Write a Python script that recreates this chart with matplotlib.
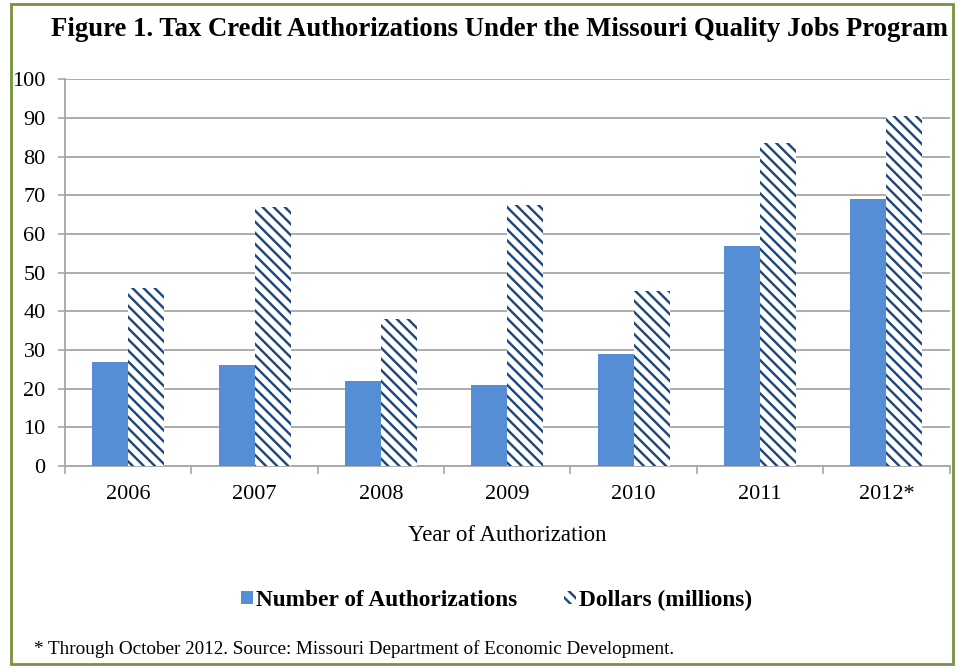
import matplotlib.pyplot as plt
import matplotlib.patches as mpatches
import numpy as np

years = ['2006', '2007', '2008', '2009', '2010', '2011', '2012*']
num_auth = [27, 26, 22, 21, 29, 57, 69]
dollars = [46, 67, 38, 67.5, 45.3, 83.5, 90.5]

plt.rcParams['font.family'] = ['Liberation Serif', 'DejaVu Serif']
plt.rcParams['hatch.linewidth'] = 1.75

fig = plt.figure(figsize=(9.66, 6.66), dpi=100)
ax = fig.add_axes([0.0673, 0.3003, 0.9157, 0.5807])

x = np.arange(len(years))
w = 0.285
ax.bar(x - w/2, num_auth, w, color='#558ed5', label='Number of Authorizations', zorder=3)
# '\\' x3 -> 18 lines per inch, close to the fine stripes of the original
ax.bar(x + w/2, dollars, w, color='white', edgecolor='#1f497d', linewidth=0,
       hatch='\\\\\\', label='Dollars (millions)', zorder=3)

ax.set_xlim(-0.5, len(years) - 0.5)
ax.set_ylim(0, 100)
ax.set_yticks(range(0, 101, 10))
ax.yaxis.grid(True, color='#a6a6a6', linewidth=1.3, zorder=0)
ax.set_xticks(x)
ax.set_xticklabels(years, fontsize=16)
ax.set_xticks(np.arange(-0.5, len(years)), minor=True)
ax.tick_params(axis='x', which='major', length=0, pad=14)
ax.tick_params(axis='x', which='minor', length=6, color='#a6a6a6', width=1.2)
ax.tick_params(axis='y', length=5, color='#a6a6a6', width=1.2, labelsize=16, pad=9)
for s in ['top', 'right']:
    ax.spines[s].set_visible(False)
for s in ['left', 'bottom']:
    ax.spines[s].set_color('#a6a6a6')
    ax.spines[s].set_linewidth(1.3)

ax.set_xlabel('Year of Authorization', fontsize=16.5, labelpad=15)

fig.text(0.517, 1 - 30 / 666, 'Figure 1. Tax Credit Authorizations Under the Missouri Quality Jobs Program',
         ha='center', va='center', fontsize=19.3, fontweight='bold')

leg = fig.legend(loc='center', ncol=2, frameon=False,
                 prop={'size': 16.8, 'weight': 'bold'}, handlelength=0.5, handleheight=0.5,
                 handletextpad=0.15, columnspacing=2.0)
leg.set_bbox_to_anchor((0.514, 1 - 600 / 666))

fig.text(0.035, 1 - 649 / 666,
         '* Through October 2012. Source: Missouri Department of Economic Development.',
         ha='left', va='center', fontsize=13.8)

border = mpatches.Rectangle((0.0114, 0.003), 0.975, 0.991, transform=fig.transFigure,
                            fill=False, edgecolor='#77933c', linewidth=2)
fig.patches.append(border)

fig.savefig('out.png', dpi=100)
